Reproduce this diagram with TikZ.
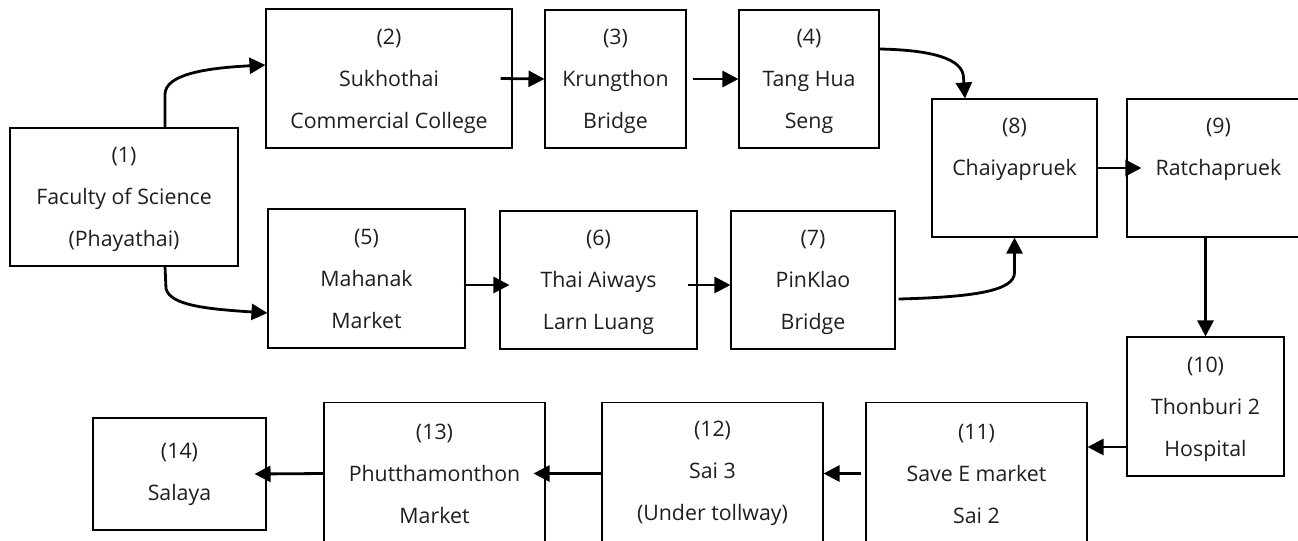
\documentclass[tikz,border=0pt]{standalone}
\usepackage{fontspec}
\setmainfont{Open Sans}
\usetikzlibrary{arrows.meta,calc}

\tikzset{every picture/.style={line width=0.75pt}}
\tikzset{
  stopbox/.style={draw, line width=0.8pt, align=center, inner sep=0pt,
    font=\fontsize{16}{31.5}\selectfont, text={rgb,255:red,30;green,30;blue,30}},
  droptext/.style={text depth=-4pt},
  route/.style={line width=2.1pt, -{Triangle[length=12pt,width=12pt]}}
}

\begin{document}
\begin{tikzpicture}[x=0.75pt,y=0.75pt,yscale=-1,xscale=1]
\useasboundingbox (0,0) rectangle (1298,540);

% Stop Nodes
\node [stopbox, droptext, minimum width=171pt, minimum height=103.5pt] (b1) at (124,197) {(1)\\Faculty of Science\\(Phayathai)};
\node [stopbox, droptext, minimum width=184.5pt, minimum height=104.25pt] (b2) at (389,78.5) {(2)\\Sukhothai\\Commercial College};
\node [stopbox, droptext, minimum width=105.75pt, minimum height=103.5pt] (b3) at (615.5,79) {(3)\\Krungthon\\Bridge};
\node [stopbox, droptext, minimum width=105pt, minimum height=103.5pt] (b4) at (809,79) {(4)\\Tang Hua\\Seng};
\node [stopbox, droptext, minimum width=147.75pt, minimum height=104.25pt] (b5) at (366.5,278.5) {(5)\\Mahanak\\Market};
\node [stopbox, droptext, minimum width=147.75pt, minimum height=103.5pt] (b6) at (598.5,280) {(6)\\Thai Aiways\\Larn Luang};
\node [stopbox, droptext, minimum width=123pt, minimum height=103.5pt] (b7) at (813,280) {(7)\\PinKlao\\Bridge};
\node [stopbox, text depth=0pt, minimum width=123.75pt, minimum height=103.5pt] (b8) at (1014.5,168) {(8)\\Chaiyapruek\\\strut};
\node [stopbox, text depth=0pt, minimum width=137.25pt, minimum height=103.5pt] (b9) at (1218.5,168) {(9)\\Ratchapruek\\\strut};
\node [stopbox, droptext, minimum width=117.75pt, minimum height=104.25pt] (b10) at (1205.5,406.5) {(10)\\Thonburi 2\\Hospital};
\node [stopbox, minimum width=165.75pt, minimum height=106.5pt] (b11) at (976.5,473.5) {(11)\\Save E market\\Sai 2};
\node [stopbox, minimum width=165.75pt, minimum height=106.5pt] (b12) at (712.5,473.5) {(12)\\Sai 3\\(Under tollway)};
\node [stopbox, minimum width=165.75pt, minimum height=106.5pt] (b13) at (434.5,473.5) {(13)\\Phutthamonthon\\Market};
\node [stopbox, minimum width=129.75pt, minimum height=84pt] (b14) at (179.5,474) {(14)\\Salaya};

% Curve Lines
\draw [route] ($(b1.north)+(41,0)$) -- ++(0,-33) .. controls +(0,-20) and +(-60,3) .. ($(b2.west)+(0,-13.5)$);
\draw [route] ($(b1.south)+(41,0)$) -- ++(1,22) .. controls +(4,17) and +(-60,-4) .. ($(b5.west)+(0,34.5)$);
\draw [route] ($(b4.east)+(0,-30)$) .. controls +(50,1) and +(0,-20) .. ++(84,29) -- ($(b8.north)+(-49.5,0)$);
\draw [route] ($(b7.east)+(3,19)$) .. controls +(77,-2) and +(0,18) .. ($(b8.south)+(0,35)$) -- (b8.south);

% Straight Lines
\draw [route] ($(b2.east)+(-12,0)$) -- (b3.west);
\draw [route] ($(b3.east)+(6,0)$) -- (b4.west);
\draw [route] ($(b5.east)+(-2,6.5)$) -- ($(b6.west)+(10,5)$);
\draw [route] ($(b6.east)+(-10,5)$) -- ($(b7.west)+(0,5)$);
\draw [route] (b8.east) -- ($(b9.west)+(15,0)$);
\draw [route] (b9.south -| b10.north) -- (b10.north);
\draw [route] ($(b10.west)+(0,40.5)$) coordinate (p10) -- (p10 -| b11.east);
\draw [route] ($(b11.west)+(-4,0)$) -- (b12.east);
\draw [route] (b12.west) -- ($(b13.east)+(-12,0)$);
\draw [route] (b13.west) -- ($(b14.east)+(-12,0)$);

\end{tikzpicture}
\end{document}
